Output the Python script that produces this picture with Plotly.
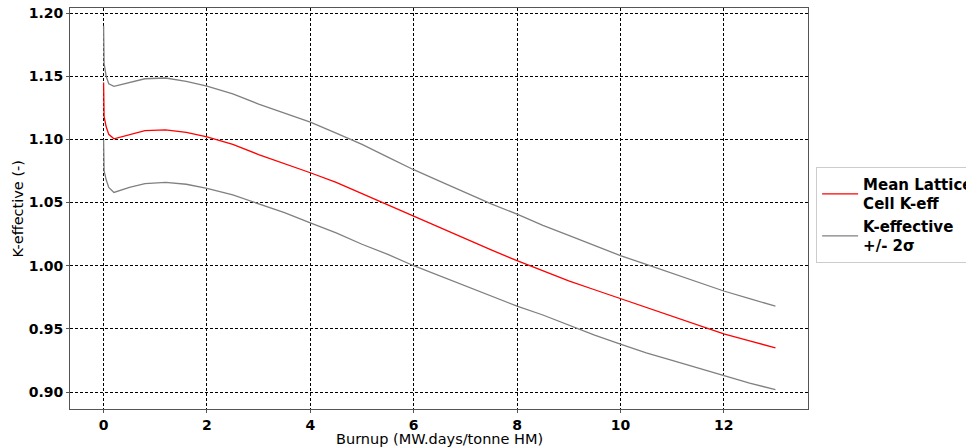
import plotly.graph_objects as go

burnup = [0, 0.01, 0.05, 0.1, 0.2, 0.5, 0.8, 1.2, 1.6, 2.0, 2.5, 3.0, 3.5, 4.0, 4.5, 5.0, 5.5,
          6.0, 6.5, 7.0, 7.5, 8.0, 8.5, 9.0, 9.5, 10.0, 10.5, 11.0, 11.5, 12.0, 12.5, 13.0]
k_mean = [1.145, 1.118, 1.110, 1.104, 1.1005, 1.104, 1.107, 1.1075, 1.1055, 1.102, 1.096, 1.088,
          1.081, 1.0736, 1.066, 1.057, 1.048, 1.039, 1.030, 1.021, 1.0125, 1.004, 0.996, 0.988,
          0.981, 0.974, 0.967, 0.9605, 0.953, 0.946, 0.9405, 0.935]
k_upper = [1.190, 1.160, 1.150, 1.144, 1.142, 1.145, 1.148, 1.1486, 1.146, 1.1422, 1.136, 1.128,
           1.121, 1.1137, 1.105, 1.096, 1.086, 1.076, 1.067, 1.058, 1.049, 1.0408, 1.032, 1.024,
           1.016, 1.008, 1.001, 0.994, 0.987, 0.980, 0.974, 0.968]
k_lower = [1.100, 1.075, 1.068, 1.062, 1.058, 1.062, 1.065, 1.066, 1.0645, 1.0613, 1.056, 1.049,
           1.042, 1.034, 1.026, 1.017, 1.009, 1.000, 0.992, 0.984, 0.976, 0.968, 0.961, 0.953,
           0.945, 0.938, 0.931, 0.925, 0.919, 0.913, 0.907, 0.902]

x_ticks = [0, 2, 4, 6, 8, 10, 12]
y_ticks = [0.90, 0.95, 1.00, 1.05, 1.10, 1.15, 1.20]
x_title = "Burnup (MW.days/tonne HM)"
y_title = "K-effective (-)"

FONT = "DejaVu Sans"

fig = go.Figure()
fig.add_trace(go.Scatter(x=burnup, y=k_mean, mode="lines", line=dict(color="red", width=1.3),
                         name="<b>Mean Lattice<br>Cell K-eff</b>"))
fig.add_trace(go.Scatter(x=burnup, y=k_upper, mode="lines", line=dict(color="gray", width=1.3),
                         name="<b>K-effective<br>+/- 2σ</b>", legendgroup="sig"))
fig.add_trace(go.Scatter(x=burnup, y=k_lower, mode="lines", line=dict(color="gray", width=1.3),
                         name="lower", legendgroup="sig", showlegend=False))

axis_common = dict(
    showgrid=True, gridcolor="black", gridwidth=1, griddash="3px,2px",
    zeroline=False, showline=True, linecolor="#555555", linewidth=1, mirror=True,
    ticks="outside", ticklen=3, tickcolor="#555555", automargin=False,
    tickfont=dict(family=FONT, size=14, color="black", weight="bold"),
)

fig.update_layout(
    width=966, height=447,
    margin=dict(l=70, r=158, t=8, b=38, autoexpand=False),
    paper_bgcolor="white", plot_bgcolor="white",
    font=dict(family=FONT, size=15, color="black"),
    xaxis=dict(range=[-0.65, 13.63], tickvals=x_ticks, ticktext=[str(v) for v in x_ticks],
               **axis_common),
    yaxis=dict(range=[0.8866, 1.204], tickvals=y_ticks, ticktext=[f"{v:.2f}" for v in y_ticks],
               **axis_common),
    legend=dict(x=1.011, y=0.604, xanchor="left", yanchor="top",
                bordercolor="#cccccc", borderwidth=1, bgcolor="white",
                font=dict(family=FONT, size=15, color="black"),
                tracegroupgap=0, itemwidth=36),
    showlegend=True,
    annotations=[
        dict(text=x_title, xref="paper", yref="paper", x=0.5, y=-0.049,
             xanchor="center", yanchor="top", showarrow=False,
             font=dict(family=FONT, size=14.5, color="black")),
        dict(text=y_title, xref="paper", yref="paper", x=-0.0705, y=0.5,
             xanchor="center", yanchor="middle", textangle=-90, showarrow=False,
             font=dict(family=FONT, size=14.5, color="black")),
    ],
)

fig.write_html("out.html")
